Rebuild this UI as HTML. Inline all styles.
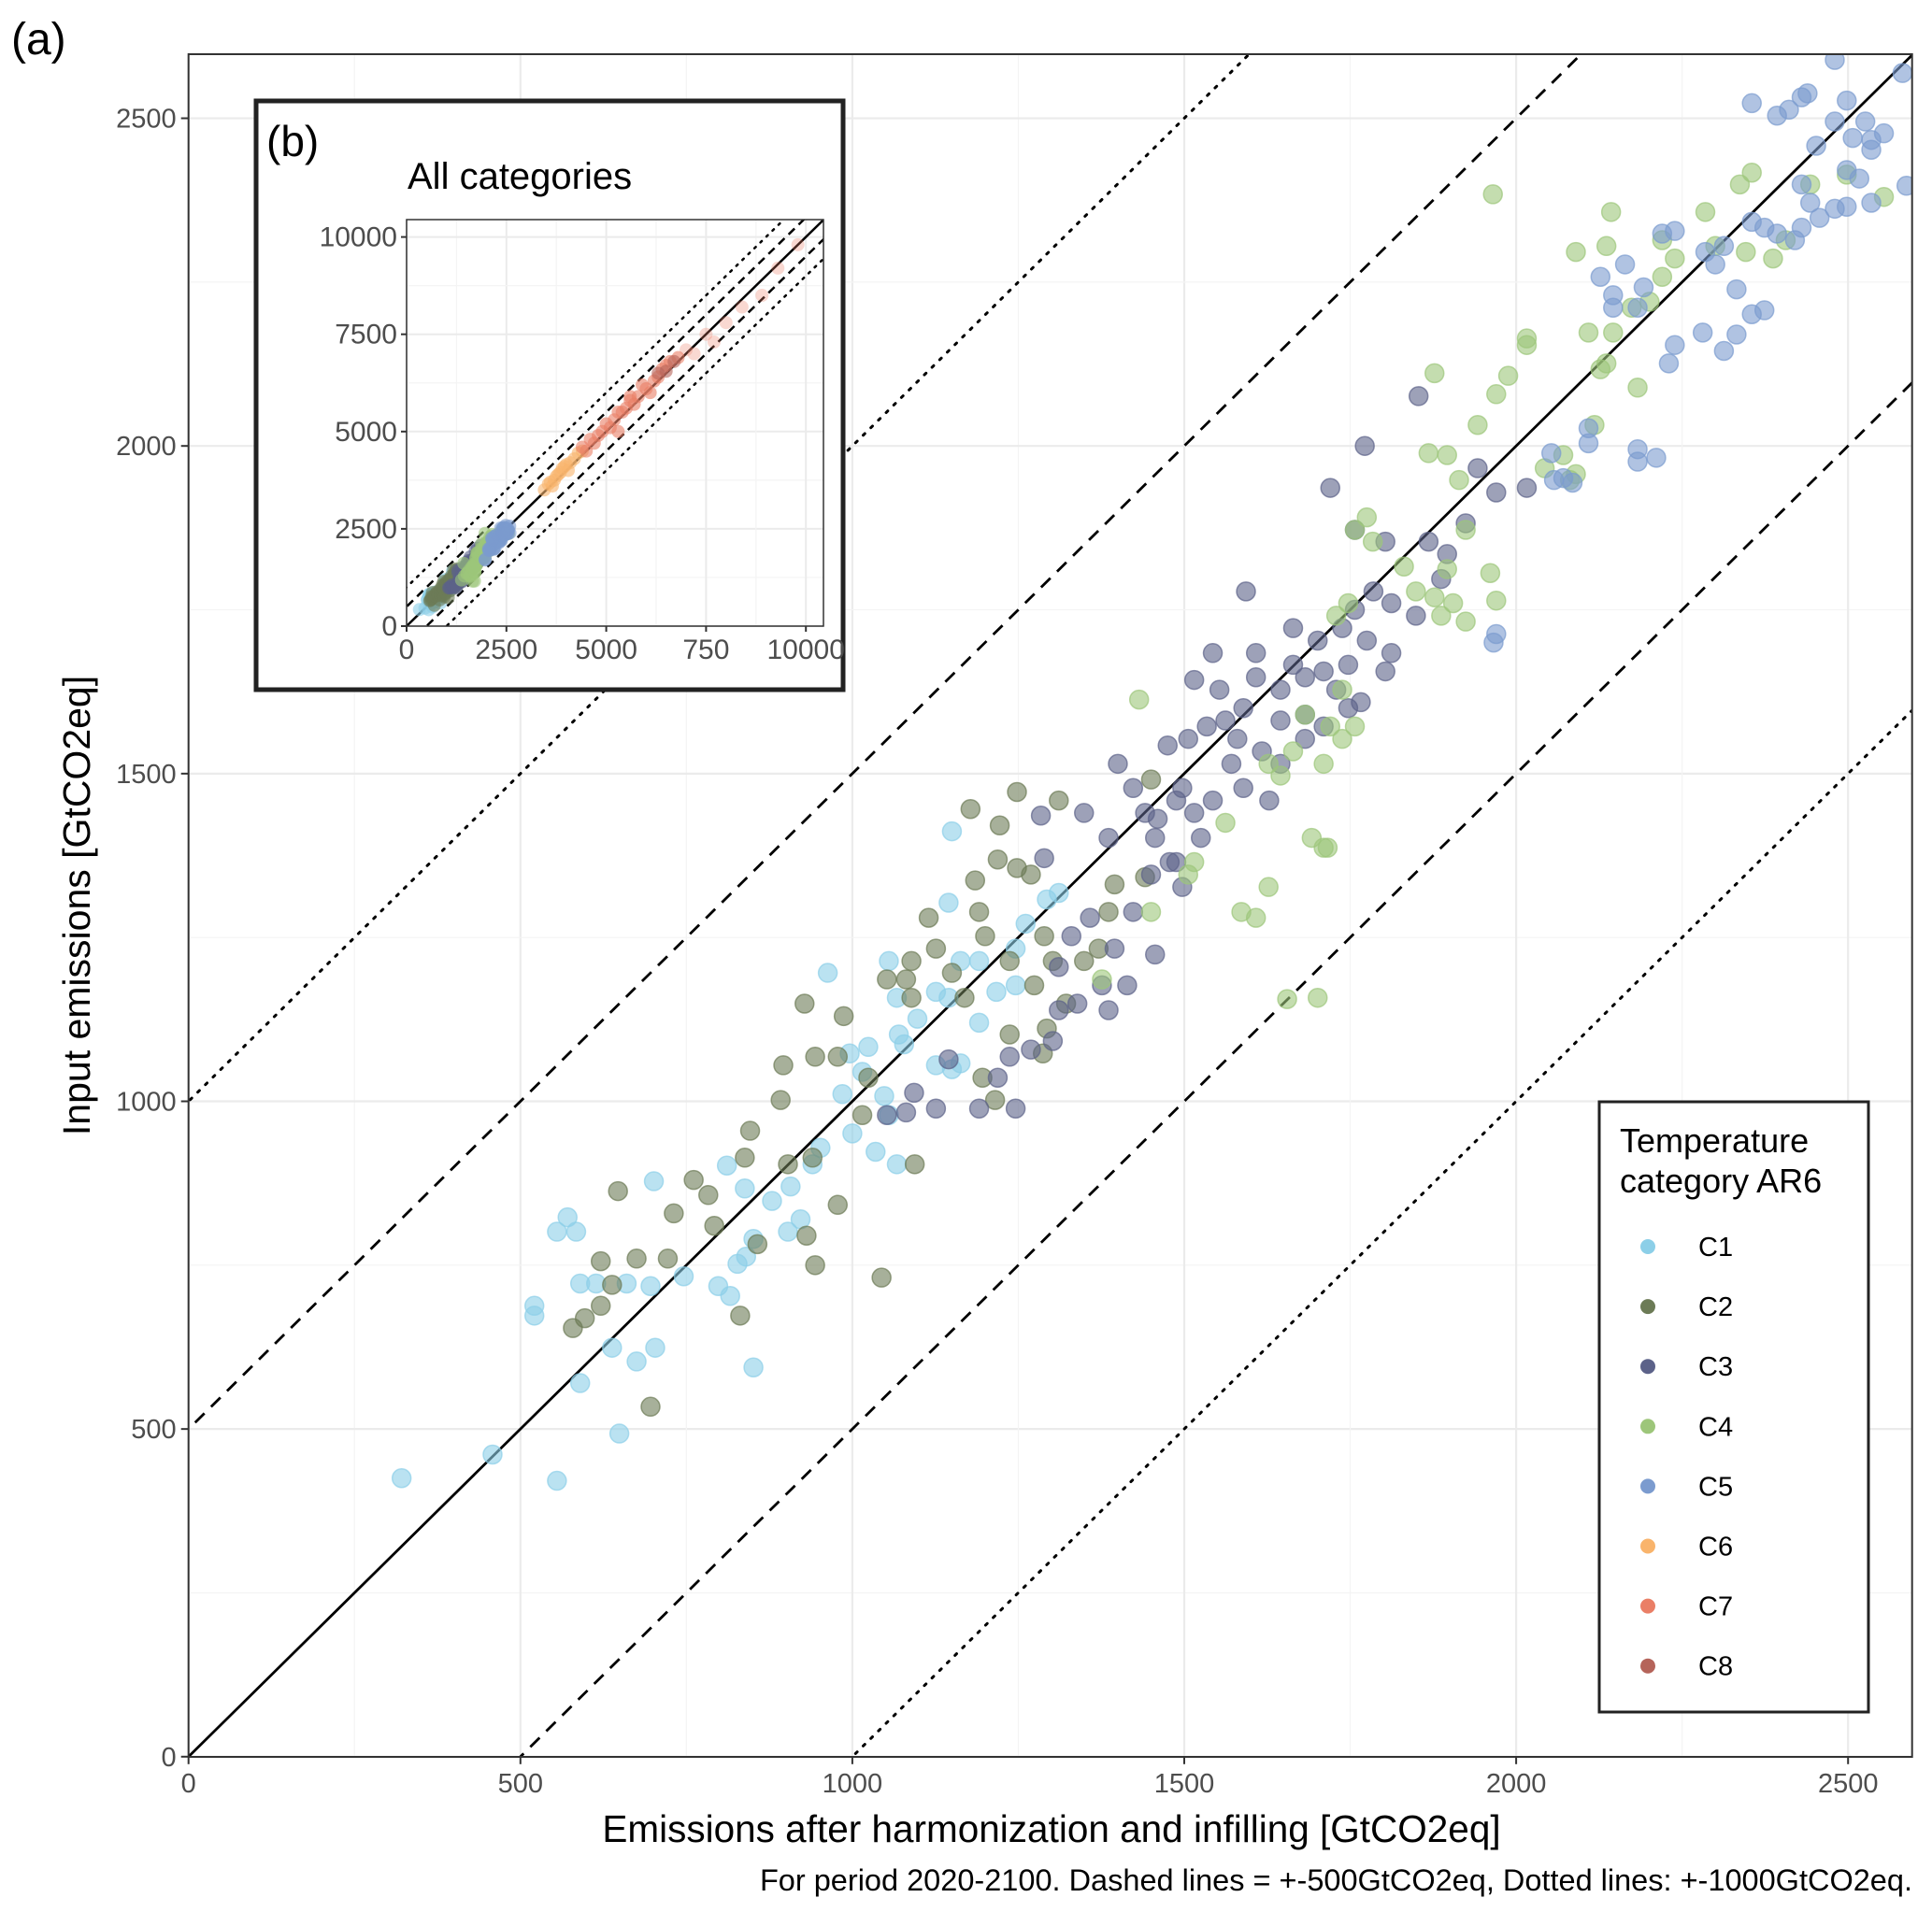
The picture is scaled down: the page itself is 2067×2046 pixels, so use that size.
<!DOCTYPE html>
<html><head><meta charset="utf-8">
<style>
html,body{margin:0;padding:0;background:#fff;overflow:hidden;width:2067px;height:2046px;}
svg{display:block;font-family:"Liberation Sans",Arial,sans-serif;}
</style></head>
<body>
<svg id="chart" width="2067" height="2046" viewBox="0 0 2067 2046" xmlns="http://www.w3.org/2000/svg">
<defs>
<clipPath id="mainClip"><rect x="201.7" y="58" width="1844" height="1822"/></clipPath>
<clipPath id="insetClip"><rect x="435" y="235" width="446" height="435"/></clipPath>
</defs>
<rect x="0" y="0" width="2067" height="2046" fill="#fff"/>
<g id="mainGrid"></g>
<g id="mainLines" clip-path="url(#mainClip)"></g>
<g id="mainPoints" clip-path="url(#mainClip)"></g>
<rect x="201.7" y="58" width="1844" height="1822" fill="none" stroke="#333" stroke-width="2"/>
<g id="mainAxes"></g>

<text x="12" y="58" font-size="48" fill="#000">(a)</text>
<text x="1125" y="1971" font-size="40.5" text-anchor="middle" fill="#000">Emissions after harmonization and infilling [GtCO2eq]</text>
<text transform="translate(96,969) rotate(-90)" font-size="41" text-anchor="middle" fill="#000">Input emissions [GtCO2eq]</text>
<text x="2046" y="2023" font-size="32.5" text-anchor="end" fill="#000">For period 2020-2100. Dashed lines = +-500GtCO2eq, Dotted lines: +-1000GtCO2eq.</text>

<g>
<rect x="274" y="108" width="628" height="630" fill="#fff" stroke="#222" stroke-width="5"/>
<text x="285" y="167" font-size="46" fill="#000">(b)</text>
<text x="436" y="202" font-size="40" fill="#000">All categories</text>
<g id="insetGrid"></g>
<g id="insetLines" clip-path="url(#insetClip)"></g>
<g id="insetPoints" clip-path="url(#insetClip)"></g>
<rect x="435" y="235" width="446" height="435" fill="none" stroke="#333" stroke-width="1.5"/>
<g id="insetAxes"></g>
</g>

<g>
<rect x="1711" y="1179" width="288" height="653" fill="#fff" stroke="#222" stroke-width="3"/>
<text x="1733" y="1233" font-size="36" fill="#000">Temperature</text>
<text x="1733" y="1276" font-size="36" fill="#000">category AR6</text>
<g id="legendEntries"></g>
</g>
</svg>
<script>
// ---------- data (data units, GtCO2eq) ----------
const categories = ["C1","C2","C3","C4","C5","C6","C7","C8"];
const catColors = ["#8ccfe8","#6c7b56","#5c6289","#9dc67a","#7b9bcf","#f9b46c","#ea7f66","#b5645a"];
const mainTicks = [0,500,1000,1500,2000,2500];
const mainTickLabels = ["0","500","1000","1500","2000","2500"];
const insetTicks = [0,2500,5000,7500,10000];
const insetXTickLabels = ["0","2500","5000","750","10000"];
const insetYTickLabels = ["0","2500","5000","7500","10000"];
const lineOffsets = [0,500,-500,1000,-1000];

const c1x = [321,458,555,649,590,638,675,703,521,521,555,571,584,590,614,701,660,696,746,798,816,827,840,851,811,838,879,903,922,907,940,952,985,1000,1035,1067,1055,996,1024,1070,1067,1055,1078,1098,1126,1150,1163,1191,1191,1150,1163,1145,1217,1246,1261,1246,1293,1311,963,1015,1048,1126,1145,851];
const c1y = [425,461,421,493,570,624,603,624,673,688,801,823,801,722,722,878,722,718,733,718,703,752,763,790,902,867,848,801,820,870,904,929,1011,951,923,904,979,1073,1083,1102,1158,1214,1087,1126,1167,1049,1058,1120,1214,1412,1214,1303,1167,1177,1271,1233,1308,1318,1196,1045,1008,1055,1158,594];
const c2x = [696,579,597,621,647,621,675,638,722,731,761,783,792,831,857,838,846,892,896,903,940,931,944,978,944,978,928,987,1015,1024,1044,1094,1052,1081,1089,1115,1126,1150,1169,1185,1191,1200,1237,1248,1222,1178,1248,1219,1269,1289,1302,1274,1293,1322,1237,1287,1349,1371,1386,1395,1441,1450,1311,1196,1215,1089];
const c2y = [534,654,669,688,863,756,760,720,760,829,880,857,810,673,782,914,955,1002,1055,904,914,795,750,842,1068,1068,1149,1130,979,1036,731,904,1186,1186,1214,1280,1233,1196,1158,1337,1289,1252,1214,1356,1421,1446,1472,1369,1346,1252,1214,1177,1111,1149,1102,1073,1214,1233,1289,1331,1342,1491,1459,1036,1002,1158];
const c3x = [1093,1052,1081,1126,1145,1191,1219,1237,1269,1302,1339,1311,1376,1395,1423,1358,1330,1311,1289,1284,1349,1386,1456,1450,1488,1497,1525,1400,1423,1441,1460,1478,1515,1497,1543,1571,1580,1589,1617,1645,1628,1682,1710,1729,1747,1775,1812,1849,1887,1924,1970,2016,1720,1772,1853,1803,1868,1896,1942,1562,1608,1645,1682,1589,1553,1515,1543,1664,1701,1738,1757,1785,1812,1645,1682,1747,1766,1803,1593,1757,1475,1456,1386,1414,1246,1534,1506,1488,1664,1710,1608];
const c3y = [1013,979,983,989,1064,989,1036,1068,1079,1092,1149,1139,1177,1233,1289,1280,1252,1205,1371,1436,1440,1402,1402,1346,1365,1327,1402,1515,1478,1440,1431,1365,1440,1478,1459,1515,1553,1478,1534,1515,1459,1553,1572,1628,1666,1703,1684,1741,1797,1882,1929,1936,1936,2000,2076,1854,1854,1835,1966,1581,1647,1628,1647,1600,1628,1643,1684,1722,1703,1722,1750,1778,1760,1581,1590,1600,1609,1656,1778,1872,1543,1224,1139,1177,989,1572,1553,1459,1666,1656,1684];
const c4x = [1655,1608,1627,1586,1562,1515,1506,1450,1432,1376,1710,1692,1710,1738,1720,1682,1664,1645,1627,1757,1738,1729,1747,1757,1775,1784,1831,1849,1877,1887,1905,1896,1924,1961,1970,1924,1896,1914,1868,1942,1877,1970,1988,2016,1965,2016,2043,2071,2090,2081,2118,2127,2109,2136,2146,2183,2174,2220,2201,2239,2220,2285,2337,2355,2300,2346,2443,2498,2554,2143,2090,2136,2406,2387,1701,1716];
const c4y = [1156,1280,1327,1289,1425,1365,1346,1289,1613,1186,1387,1402,1515,1553,1572,1590,1534,1497,1515,1572,1628,1741,1760,1872,1891,1854,1816,1778,1769,1741,1760,1812,1872,1806,1764,1732,1986,1948,1989,2032,2111,2079,2107,2164,2384,2154,1966,1986,1957,1948,2032,2117,2173,2126,2173,2089,2211,2258,2220,2286,2314,2357,2399,2417,2305,2296,2399,2414,2380,2357,2296,2305,2314,2286,1158,1387];
const c5x = [2053,2109,2183,2211,2183,2109,2057,2085,2146,2183,2220,2239,2285,2300,2313,2355,2374,2393,2420,2430,2332,2374,2332,2313,2355,2239,2281,2230,2192,2355,2393,2411,2430,2439,2480,2498,2535,2507,2526,2480,2498,2535,2554,2582,2588,2452,2430,2443,2480,2498,2535,2457,2517,1970,1966,2071,2127,2164,2146];
const c5y = [1989,2004,1995,1982,1976,2027,1948,1944,2211,2211,2324,2328,2296,2277,2305,2342,2333,2324,2314,2333,2239,2207,2170,2145,2201,2154,2173,2126,2242,2523,2504,2513,2532,2538,2589,2527,2467,2470,2495,2495,2421,2452,2477,2569,2397,2458,2399,2371,2362,2365,2371,2348,2408,1713,1700,1951,2258,2277,2230];
const c6x = [3450,3600,3700,3800,3900,4000,4100,4200,4300,3550,3750,3950,4050,4400,3650,3850];
const c6y = [3500,3700,3750,3900,4050,4150,4200,4300,4450,3650,3850,4100,4000,4500,3600,3950];
const c7x = [4400,4600,4800,5000,5200,5300,5500,5600,5800,6000,6200,6400,6600,4700,4900,5100,5400,5700,5900,6100,6300,6500,6800,7000,7200,7500,7700,8000,8400,8900,9300,9800,5300,5600,4500];
const c7y = [4600,4800,4900,5200,5300,5500,5600,5800,5900,6100,6300,6600,6800,4700,5000,5100,5500,5700,6200,6000,6400,6700,6900,7100,7000,7500,7300,7800,8200,8500,9200,9800,5000,5900,4500];
const c8x = [6500,6700,6300];
const c8y = [6550,6800,6500];

const seriesX = [c1x,c2x,c3x,c4x,c5x,c6x,c7x,c8x];
const seriesY = [c1y,c2y,c3y,c4y,c5y,c6y,c7y,c8y];

// ---------- scales ----------
const M = {x0:201.7, x1:2045.7, y0:1879.8, y1:58};
function X(v){ return M.x0 + v*0.7102; }
function Y(v){ return M.y0 - v*0.7013; }
const I = {x0:435, x1:881, y0:670, y1:235};
function IX(v){ return I.x0 + v*0.04272; }
function IY(v){ return I.y0 - v*0.04164; }

const NS = "http://www.w3.org/2000/svg";
function mk(tag, attrs, parent){
  const e = document.createElementNS(NS, tag);
  for (const k in attrs) e.setAttribute(k, attrs[k]);
  parent.appendChild(e);
  return e;
}

// ---------- main grid ----------
const mg = document.getElementById("mainGrid");
for (let v=0; v<=2600; v+=250){
  const major = v%500===0;
  const c = major ? "#ebebeb" : "#f4f4f4";
  const w = major ? 2.2 : 1.2;
  const gx = mk("line",{x1:X(v),x2:X(v),y1:M.y1,y2:M.y0,stroke:c,"stroke-width":w},mg);
  
  
  const gy = mk("line",{x1:M.x0,x2:M.x1,y1:Y(v),y2:Y(v),stroke:c,"stroke-width":w},mg);
  
  
}

// ---------- main reference lines ----------
const ml = document.getElementById("mainLines");
lineOffsets.forEach(function(off){
  const a = Math.abs(off);
  const dash = a===0 ? "none" : (a===500 ? "14,10" : "2.5,9");
  const ln = mk("line",{x1:X(-1000),y1:Y(-1000+off),x2:X(4000),y2:Y(4000+off),stroke:"#000","stroke-width":a===1000?3:2.8,"stroke-dasharray":dash,"stroke-linecap":a===1000?"round":"butt"},ml);
  
  
});

// ---------- main points ----------
const mp = document.getElementById("mainPoints");
for (let s=0; s<5; s++){
  const xs = seriesX[s], ys = seriesY[s];
  for (let i=0; i<xs.length; i++){
    const c = mk("circle",{cx:X(xs[i]),cy:Y(ys[i]),r:10,fill:catColors[s],"fill-opacity":0.6,stroke:catColors[s],"stroke-opacity":0.7,"stroke-width":1.5},mp);
    
    
  }
}

// ---------- main axes ----------
const ma = document.getElementById("mainAxes");
mainTicks.forEach(function(v,i){
  const tx = mk("line",{x1:X(v),x2:X(v),y1:M.y0,y2:M.y0+8,stroke:"#333","stroke-width":2},ma);
  
  
  const lx = mk("text",{x:X(v),y:M.y0+38,"font-size":29,"text-anchor":"middle",fill:"#4d4d4d"},ma);
  lx.textContent = mainTickLabels[i];
  
  
  const ty = mk("line",{x1:M.x0-8,x2:M.x0,y1:Y(v),y2:Y(v),stroke:"#333","stroke-width":2},ma);
  
  
  const ly = mk("text",{x:M.x0-13,y:Y(v)+10,"font-size":29,"text-anchor":"end",fill:"#4d4d4d"},ma);
  ly.textContent = mainTickLabels[i];
  
  
});

// ---------- inset ----------
const ig = document.getElementById("insetGrid");
for (let v=0; v<=10500; v+=1250){
  const major = v%2500===0;
  const c = major ? "#ebebeb" : "#f4f4f4";
  const w = major ? 2 : 1.2;
  const a = mk("line",{x1:IX(v),x2:IX(v),y1:I.y1,y2:I.y0,stroke:c,"stroke-width":w},ig);
  
  
  const b = mk("line",{x1:I.x0,x2:I.x1,y1:IY(v),y2:IY(v),stroke:c,"stroke-width":w},ig);
  
  
}
const il = document.getElementById("insetLines");
lineOffsets.forEach(function(off){
  const a = Math.abs(off);
  const dash = a===0 ? "none" : (a===500 ? "9,6" : "2,7");
  const ln = mk("line",{x1:IX(-2000),y1:IY(-2000+off),x2:IX(14000),y2:IY(14000+off),stroke:"#000","stroke-width":2.5,"stroke-dasharray":dash,"stroke-linecap":a===1000?"round":"butt"},il);
  
  
});
const ip = document.getElementById("insetPoints");
for (let s=0; s<8; s++){
  const xs = seriesX[s], ys = seriesY[s];
  for (let i=0; i<xs.length; i++){
    const faded = s===6 && xs[i]>6900;
    const c = mk("circle",{cx:IX(xs[i]),cy:IY(ys[i]),r:7,fill:catColors[s],"fill-opacity":faded?0.3:0.6},ip);
    
    
  }
}
const ia = document.getElementById("insetAxes");
insetTicks.forEach(function(v,i){
  const tx = mk("line",{x1:IX(v),x2:IX(v),y1:I.y0,y2:I.y0+6,stroke:"#333","stroke-width":2},ia);
  
  
  const lx = mk("text",{x:IX(v),y:I.y0+35,"font-size":30,"text-anchor":"middle",fill:"#4d4d4d"},ia);
  lx.textContent = insetXTickLabels[i];
  
  
  const ty = mk("line",{x1:I.x0-6,x2:I.x0,y1:IY(v),y2:IY(v),stroke:"#333","stroke-width":2},ia);
  
  
  const ly = mk("text",{x:I.x0-10,y:IY(v)+10,"font-size":30,"text-anchor":"end",fill:"#4d4d4d"},ia);
  ly.textContent = insetYTickLabels[i];
  
  
});

// ---------- legend ----------
const le = document.getElementById("legendEntries");
categories.forEach(function(cat,i){
  const g = mk("g",{},le);
  
  
  const yy = 1334 + i*64.1;
  const d = mk("circle",{cx:1763,cy:yy,r:8,fill:catColors[i]},g);
  
  
  const t = mk("text",{x:1817,y:yy+10,"font-size":29,fill:"#000"},g);
  t.textContent = cat;
  
  
});
</script>
</body></html>
